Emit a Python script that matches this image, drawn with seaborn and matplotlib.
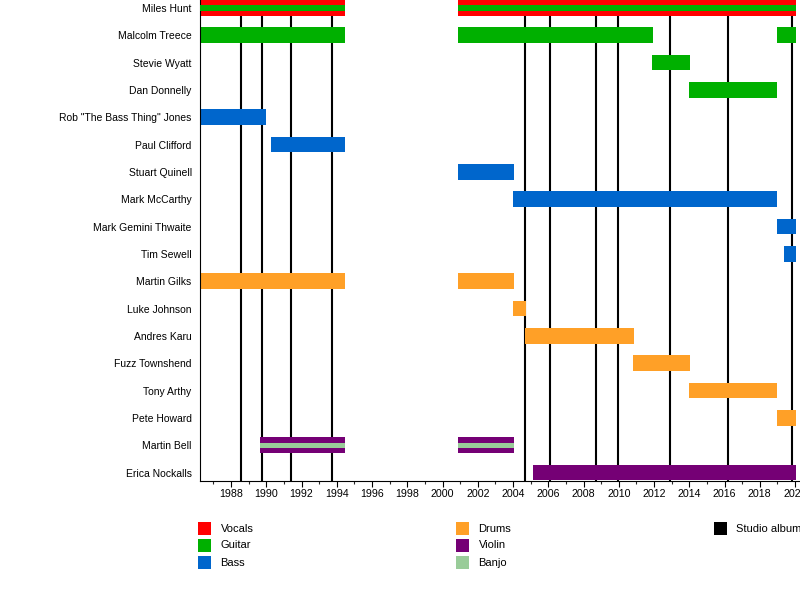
import matplotlib
matplotlib.use('Agg')
import matplotlib.pyplot as plt
from matplotlib.patches import Rectangle
import seaborn as sns


members = ['Miles Hunt', 'Malcolm Treece', 'Stevie Wyatt', 'Dan Donnelly',
           'Rob "The Bass Thing" Jones', 'Paul Clifford', 'Stuart Quinell',
           'Mark McCarthy', 'Mark Gemini Thwaite', 'Tim Sewell', 'Martin Gilks',
           'Luke Johnson', 'Andres Karu', 'Fuzz Townshend', 'Tony Arthy',
           'Pete Howard', 'Martin Bell', 'Erica Nockalls']

role_colors = {
    'Vocals': '#ff0000',
    'Guitar': '#00b000',
    'Bass': '#0066cc',
    'Drums': '#ffa027',
    'Violin': '#750075',
    'Banjo': '#99cc99',
    'Studio albums': '#000000',
}

# main bars
seg_member = ['Miles Hunt', 'Miles Hunt',
              'Malcolm Treece', 'Malcolm Treece', 'Malcolm Treece',
              'Stevie Wyatt', 'Dan Donnelly',
              'Rob "The Bass Thing" Jones', 'Paul Clifford', 'Stuart Quinell',
              'Mark McCarthy', 'Mark Gemini Thwaite', 'Tim Sewell',
              'Martin Gilks', 'Martin Gilks', 'Luke Johnson', 'Andres Karu',
              'Fuzz Townshend', 'Tony Arthy', 'Pete Howard',
              'Martin Bell', 'Martin Bell', 'Erica Nockalls']
seg_start = [1986.24, 2000.88,
             1986.24, 2000.88, 2018.98,
             2011.89, 2013.99,
             1986.24, 1990.27, 2000.88,
             2004.0, 2018.98, 2019.38,
             1986.24, 2000.88, 2004.0, 2004.68,
             2010.81, 2013.99, 2018.98,
             1989.65, 2000.88, 2005.13]
seg_end = [1994.47, 2020.05,
           1994.47, 2011.92, 2020.05,
           2014.04, 2019.0,
           1989.99, 1994.47, 2004.06,
           2019.0, 2020.05, 2020.05,
           1994.47, 2004.06, 2004.74, 2010.87,
           2014.04, 2019.0, 2020.05,
           1994.47, 2004.06, 2020.05]
seg_role = ['Vocals', 'Vocals',
            'Guitar', 'Guitar', 'Guitar',
            'Guitar', 'Guitar',
            'Bass', 'Bass', 'Bass',
            'Bass', 'Bass', 'Bass',
            'Drums', 'Drums', 'Drums', 'Drums',
            'Drums', 'Drums', 'Drums',
            'Violin', 'Violin', 'Violin']

# thin inner stripes for a second instrument
stripe_member = ['Miles Hunt', 'Miles Hunt', 'Martin Bell', 'Martin Bell']
stripe_start = [1986.24, 2000.88, 1989.65, 2000.88]
stripe_end = [1994.47, 2020.05, 1994.47, 2004.06]
stripe_role = ['Guitar', 'Guitar', 'Banjo', 'Banjo']

album_years = [1988.55, 1989.74, 1991.40, 1993.71, 2004.66, 2006.08,
               2008.69, 2009.94, 2012.89, 2016.18, 2019.81]

legend_cols = [['Vocals', 'Guitar', 'Bass'],
               ['Drums', 'Violin', 'Banjo'],
               ['Studio albums']]


sns.set_theme(style='white')
plt.rcParams['font.family'] = ['Liberation Sans', 'DejaVu Sans']

fig = plt.figure(figsize=(8, 6), dpi=100)
ax = fig.add_axes([200 / 800, 119 / 600, 600 / 800, 481 / 600])

ypos = {m: i for i, m in enumerate(members)}

ax.vlines(album_years, -1, len(members) + 1, color='black', linewidth=1.5, zorder=1)

ax.barh([ypos[m] for m in seg_member], [e - s for s, e in zip(seg_start, seg_end)],
        left=seg_start, height=0.575, color=[role_colors[r] for r in seg_role],
        linewidth=0, zorder=2)
ax.barh([ypos[m] for m in stripe_member], [e - s for s, e in zip(stripe_start, stripe_end)],
        left=stripe_start, height=0.19, color=[role_colors[r] for r in stripe_role],
        linewidth=0, zorder=3)

ax.set_xlim(1986.24, 2020.28)
ax.set_ylim(17.31, -0.29)
ax.set_yticks(range(len(members)))
ax.set_yticklabels(members)
ax.set_xticks(range(1988, 2021, 2))
ax.set_xticks(range(1987, 2021, 2), minor=True)
ax.tick_params(axis='y', length=0, pad=6, labelsize=7.5, colors='black')
ax.tick_params(axis='x', which='major', length=4.3, width=0.8, pad=1.5,
               labelsize=7.7, colors='black', direction='out', bottom=True)
ax.tick_params(axis='x', which='minor', length=1.8, width=0.8, direction='out', bottom=True)
ax.grid(False)

sns.despine(ax=ax, top=True, right=True)
for side in ['left', 'bottom']:
    ax.spines[side].set_color('black')
    ax.spines[side].set_linewidth(0.8)

# legend
col_x = [198, 456, 714]
row_y = [522, 539, 556]
for cx, items in zip(col_x, legend_cols):
    for ry, label in zip(row_y, items):
        fig.add_artist(Rectangle((cx / 800, 1 - (ry + 12.7) / 600), 12.7 / 800, 12.7 / 600,
                                 transform=fig.transFigure, color=role_colors[label],
                                 linewidth=0))
        fig.text((cx + 22.5) / 800, 1 - (ry + 6.5) / 600, label, fontsize=8,
                 va='center', ha='left', color='black')

fig.savefig('out.png', dpi=100)
